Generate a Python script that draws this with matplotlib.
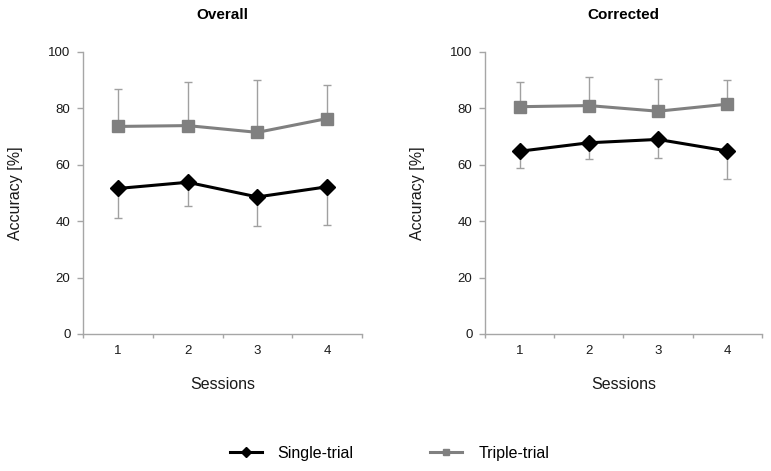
import matplotlib
matplotlib.use("Agg")
import matplotlib.pyplot as plt
import numpy as np

plt.rcParams['font.family'] = ['Liberation Sans', 'DejaVu Sans']

sessions = [1, 2, 3, 4]
session_labels = ["1", "2", "3", "4"]

overall_single = [51.6, 53.8, 48.6, 52.2]
overall_single_low = [41.3, 45.3, 38.2, 38.6]
overall_triple = [73.6, 73.9, 71.5, 76.4]
overall_triple_high = [87.0, 89.2, 90.0, 88.2]

corrected_single = [64.8, 67.8, 69.0, 64.9]
corrected_single_low = [59.0, 62.2, 62.5, 55.0]
corrected_triple = [80.6, 81.0, 79.0, 81.5]
corrected_triple_high = [89.5, 91.1, 90.3, 90.2]

titles = ["Overall", "Corrected"]
yticks = [0, 20, 40, 60, 80, 100]

fig = plt.figure(figsize=(7.71, 4.71), dpi=100)
ax1 = fig.add_axes([0.1077, 0.2909, 0.3618, 0.5987])
ax2 = fig.add_axes([0.629, 0.2909, 0.359, 0.5987])

axcol = '#a6a6a6'
errcol = '#a0a0a0'
tripcol = '#808080'
txtcol = '#1a1a1a'

panels = [
    (ax1, overall_single, overall_single_low, overall_triple, overall_triple_high),
    (ax2, corrected_single, corrected_single_low, corrected_triple, corrected_triple_high),
]

for i, (ax, s, sl, t, th) in enumerate(panels):
    s = np.array(s); sl = np.array(sl); t = np.array(t); th = np.array(th)
    ax.errorbar(sessions, t, yerr=[np.zeros(4), th - t], fmt='none', ecolor=errcol,
                elinewidth=1, capsize=3, capthick=1, zorder=1)
    ax.errorbar(sessions, s, yerr=[s - sl, np.zeros(4)], fmt='none', ecolor=errcol,
                elinewidth=1, capsize=3, capthick=1, zorder=1)
    ax.plot(sessions, t, color=tripcol, lw=2.2, marker='s', ms=8,
            label='Triple-trial', zorder=3)
    ax.plot(sessions, s, color='black', lw=2.2, marker='D', ms=8.5,
            label='Single-trial', zorder=3)
    ax.set_xlim(0.5, 4.5)
    ax.set_ylim(0, 100)
    ax.set_yticks(yticks)
    ax.set_xticks(sessions)
    ax.set_xticklabels(session_labels)
    ax.set_xticks([0.5, 1.5, 2.5, 3.5, 4.5], minor=True)
    ax.tick_params(axis='x', which='major', length=0, labelsize=9.5, pad=8, labelcolor=txtcol)
    ax.tick_params(axis='x', which='minor', length=3, color=axcol, width=1)
    ax.tick_params(axis='y', length=4, color=axcol, width=1, labelsize=9.5, pad=5,
                   labelcolor=txtcol)
    for sp in ['top', 'right']:
        ax.spines[sp].set_visible(False)
    for sp in ['left', 'bottom']:
        ax.spines[sp].set_color(axcol)
        ax.spines[sp].set_linewidth(1)
    ax.set_ylabel('Accuracy [%]', fontsize=11.5, labelpad=18, color=txtcol)
    ax.set_xlabel('Sessions', fontsize=11.5, labelpad=14, color=txtcol)
    ax.set_title(titles[i], fontsize=11, fontweight='bold', pad=24)

h, l = ax1.get_legend_handles_labels()
fig.legend([h[1], h[0]], [l[1], l[0]], loc='center', bbox_to_anchor=(0.505, 0.038),
           ncol=2, frameon=False, fontsize=11.5, handlelength=2.0, handletextpad=1.0,
           columnspacing=4.8, markerscale=0.55)

fig.savefig('out.png', dpi=100)
